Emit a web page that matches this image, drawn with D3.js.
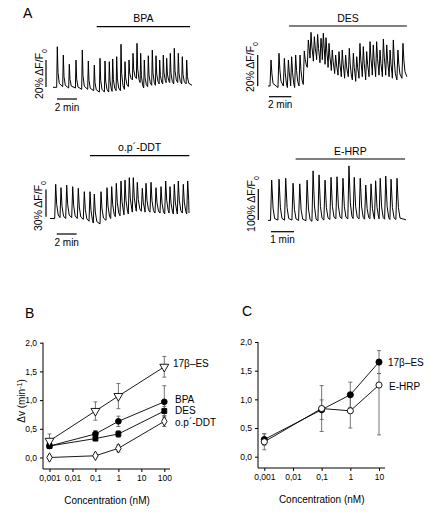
<!DOCTYPE html>
<html><head><meta charset="utf-8">
<script src="https://cdn.jsdelivr.net/npm/d3@7"></script>
<style>
body{margin:0;background:#fff}
svg{display:block;background:#fff}
text{font-family:"Liberation Sans",Arial,Helvetica,sans-serif;fill:#000}
</style>
</head><body>
<svg id="chart" width="431" height="513"></svg>
<script>
// ---------------- DATA ----------------
// Panel A traces (time in min, ΔF/F0 in %)
const bpaPeakT = [0.43,1.03,1.63,2.3,2.93,3.53,4.13,4.7,5.2,5.63,5.97,6.37,6.8,7.2,7.6,8.0,8.4,8.77,9.13,9.53,9.93,10.3,10.67,11.03,11.37,11.73,12.13,12.53,12.93,13.37];
const bpaPeakV = [30.6,24.4,17.6,20.7,28.1,20,17,22,20,19.5,21.5,23.2,32.4,19.5,20.7,25.7,33.1,25.7,20.7,23.9,28.1,23.9,20.7,24.4,22,25.7,29.4,25.7,23.2,20.7];
const bpaBaseV = [0.5,1,0,0,-1,-1,-2,-3,-3,-3,-2.5,-2,-2,-1,1,6,7,4,0,1,2,2,3,3,4,4,3,4,3,3];
const bpaEnd = [13.9, 2];

const desPeakT = [0.27,0.98,1.46,1.82,2.11,2.47,2.86,3.24,3.6,3.84,4.14,4.43,4.73,4.94,5.18,5.45,5.74,6.04,6.34,6.63,6.93,7.26,7.62,7.92,8.21,8.51,8.81,9.11,9.4,9.7,10.0,10.3,10.6,10.9,11.19,11.6,12.05];
const desPeakV = [16.8,21.1,17.8,16.8,18.9,20,20,22.6,29.7,34.6,31.8,33.3,30.8,34,31.2,27.5,23.2,20,22.2,23.2,20,24.3,21.1,18.9,27.5,25.4,22.2,28.6,26.5,28.6,23.2,30.3,26.5,23.2,29.7,23.2,27.5];
const desBaseV = [0,-1,0,-1,0,-1,0,1,12,18,16,17,15,17,14,12,10,8,7,6,5,6,4,3,5,6,4,6,7,6,7,6,7,6,5,4,5];
const desEnd = [12.4, 6];

const ddtPeakT = [0.57,1.1,1.67,2.27,2.83,3.43,4.0,4.43,5.1,5.7,6.17,6.63,7.1,7.5,7.93,8.33,8.73,9.23,9.6,10.1,10.6,11.1,11.57,12.0,12.43,12.83,13.33,13.77];
const ddtPeakV = [35.6,31.9,34.8,33,31.2,27.5,27.5,24.9,27.5,31.9,33,36.7,39.2,40.3,42.9,42.9,37.8,31.2,36.7,37.8,31.9,33,39.2,33,35.6,39.2,35.6,39.2];
const ddtBaseV = [-2,-1,-2,-1,-2,-3,-5,-7,-8,-4,-2,0,1,2,3,5,6,6,5,5,4,4,3,4,3,3,4,3];
const ddtEnd = [13.9, 4];

const ehrpPeakT = [0.16,0.48,0.77,1.09,1.38,1.70,1.96,2.22,2.48,2.74,3.0,3.26,3.52,3.75,4.01,4.25,4.48,4.68,4.88,5.12,5.35,5.61];
const ehrpPeakV = [127,130,133,117,115,127,157,144,127,136,138,133,173,136,133,111,115,125,133,140,130,133];
const ehrpBaseV = [-3,-2,-2,-2,-3,-4,-6,-5,-2,0,2,3,2,3,2,1,2,1,2,1,0,0];
const ehrpEnd = [6.0, -1];

const treatNames = ["BPA", "DES", "o.p´-DDT", "E-HRP"];
const treatStart = [4.37, 1.88, 4.0, 1.2];
const treatEnd = [13.7, 12.4, 13.93, 5.96];
const scaleBarPct = [20, 20, 30, 100];
const scaleBarMin = [2, 2, 2, 1];

// Panel B
const concB = [0.001, 0.1, 1, 100];
const es17B = [0.29, 0.81, 1.07, 1.58];
const es17BErr = [0.12, 0.16, 0.22, 0.18];
const bpaB = [0.20, 0.41, 0.63, 0.97];
const bpaBErr = [0.04, 0.06, 0.09, 0.28];
const desB = [0.20, 0.33, 0.41, 0.81];
const desBErr = [0.03, 0.04, 0.06, 0.08];
const ddtB = [0.00, 0.03, 0.16, 0.63];
const ddtBErr = [0.02, 0.02, 0.06, 0.09];
const xTicksB = [0.001, 0.01, 0.1, 1, 10, 100];
const xTickLabelsB = ["0,001", "0,01", "0,1", "1", "10", "100"];

// Panel C
const concC = [0.001, 0.1, 1, 10];
const es17C = [0.30, 0.82, 1.08, 1.65];
const es17CErr = [0.10, 0.17, 0.22, 0.20];
const ehrpC = [0.26, 0.84, 0.80, 1.25];
const ehrpCErrLo = [0.14, 0.40, 0.30, 0.87];
const ehrpCErrHi = [0.14, 0.40, 0.30, 0.20];
const xTicksC = [0.001, 0.01, 0.1, 1, 10];
const xTickLabelsC = ["0,001", "0,01", "0,1", "1", "10"];

const yTicks = [0, 0.5, 1, 1.5, 2];
const yTickLabels = ["0,0", "0,5", "1,0", "1,5", "2,0"];

// ---------------- DRAW ----------------
const svg = d3.select("#chart");
const FF = '"Liberation Sans",Arial,Helvetica,sans-serif';

function letter(t, x, y) {
  svg.append("text").attr("x", x).attr("y", y).attr("font-size", 14).text(t);
}
letter("A", 23, 18);
letter("B", 25, 317.5);
letter("C", 242, 316);

function drawTrace(cfg) {
  const x = d3.scaleLinear().domain([0, 1]).range([cfg.x0, cfg.x0 + cfg.pxMin]);
  const y = d3.scaleLinear().domain([0, 1]).range([cfg.y0, cfg.y0 - cfg.pxPct]);
  const n = cfg.peakT.length;
  const pts = [[0, cfg.baseV[0]]];
  for (let i = 0; i < n; i++) {
    const nb = i + 1 < n ? cfg.baseV[i + 1] : cfg.end[1];
    const nextStart = i + 1 < n ? cfg.peakT[i + 1] - cfg.rise : cfg.end[0];
    const tp = cfg.peakT[i];
    pts.push([tp - cfg.rise, cfg.baseV[i]]);
    pts.push([tp, cfg.peakV[i]]);
    pts.push([tp + cfg.fall, nb + cfg.frac * (cfg.peakV[i] - nb)]);
    const t2 = Math.min(tp + cfg.fall2, nextStart - 0.01);
    if (t2 > tp + cfg.fall) pts.push([t2, nb + cfg.frac2 * (cfg.peakV[i] - nb)]);
  }
  pts.push(cfg.end);
  svg.append("path")
    .attr("d", d3.line().x(d => x(d[0])).y(d => y(d[1]))(pts))
    .attr("fill", "none").attr("stroke", "#000").attr("stroke-width", 1)
    .attr("stroke-linejoin", "round");
  // treatment bar
  svg.append("line").attr("x1", x(cfg.tStart)).attr("x2", x(cfg.tEnd))
    .attr("y1", cfg.barY).attr("y2", cfg.barY).attr("stroke", "#000").attr("stroke-width", 1.2);
  svg.append("text").attr("x", (x(cfg.tStart) + x(cfg.tEnd)) / 2).attr("y", cfg.barY - 4.5)
    .attr("text-anchor", "middle").attr("font-size", 10.5).text(cfg.name);
  // vertical scale bar
  const vb = y(0) - y(cfg.sPct);
  svg.append("line").attr("x1", cfg.vbX).attr("x2", cfg.vbX)
    .attr("y1", cfg.vbBottom).attr("y2", cfg.vbBottom - vb).attr("stroke", "#000").attr("stroke-width", 1.2);
  const vt = svg.append("text").attr("transform", `translate(${cfg.vlX},${cfg.vlY}) rotate(-90)`)
    .attr("text-anchor", "middle").attr("font-size", 10.5);
  vt.append("tspan").text(cfg.sPct + "% ΔF/F");
  vt.append("tspan").attr("baseline-shift", "sub").attr("font-size", 7).text("0");
  // horizontal scale bar
  const hb = x(cfg.sMin) - x(0);
  svg.append("line").attr("x1", cfg.hbX).attr("x2", cfg.hbX + hb)
    .attr("y1", cfg.hbY).attr("y2", cfg.hbY).attr("stroke", "#000").attr("stroke-width", 1.2);
  svg.append("text").attr("x", cfg.hbX + hb / 2).attr("y", cfg.hbY + 11.5)
    .attr("text-anchor", "middle").attr("font-size", 10).text(cfg.sMin + " min");
}

drawTrace({peakT: bpaPeakT, peakV: bpaPeakV, baseV: bpaBaseV, end: bpaEnd,
  x0: 53, pxMin: 10, y0: 88, pxPct: 1.35, rise: 0.06, fall: 0.07, frac: 0.35, fall2: 0.2, frac2: 0.08,
  tStart: treatStart[0], tEnd: treatEnd[0], name: treatNames[0], barY: 26.7,
  sPct: scaleBarPct[0], vbX: 46, vbBottom: 87, vlX: 43, vlY: 74,
  sMin: scaleBarMin[0], hbX: 57, hbY: 99});
drawTrace({peakT: desPeakT, peakV: desPeakV, baseV: desBaseV, end: desEnd,
  x0: 268, pxMin: 11.2, y0: 86, pxPct: 1.55, rise: 0.09, fall: 0.08, frac: 0.5, fall2: 0.18, frac2: 0.15,
  tStart: treatStart[1], tEnd: treatEnd[1], name: treatNames[1], barY: 26,
  sPct: scaleBarPct[1], vbX: 257.7, vbBottom: 86, vlX: 254, vlY: 67,
  sMin: scaleBarMin[1], hbX: 269, hbY: 96.7});
drawTrace({peakT: ddtPeakT, peakV: ddtPeakV, baseV: ddtBaseV, end: ddtEnd,
  x0: 50, pxMin: 10, y0: 216.7, pxPct: 0.91, rise: 0.1, fall: 0.1, frac: 0.4, fall2: 0.25, frac2: 0.08,
  tStart: treatStart[2], tEnd: treatEnd[2], name: treatNames[2], barY: 155.7,
  sPct: scaleBarPct[2], vbX: 46, vbBottom: 216.7, vlX: 42, vlY: 206,
  sMin: scaleBarMin[2], hbX: 56.7, hbY: 234});
drawTrace({peakT: ehrpPeakT, peakV: ehrpPeakV, baseV: ehrpBaseV, end: ehrpEnd,
  x0: 268, pxMin: 23, y0: 219.5, pxPct: 0.31, rise: 0.05, fall: 0.06, frac: 0.3, fall2: 0.13, frac2: 0.04,
  tStart: treatStart[3], tEnd: treatEnd[3], name: treatNames[3], barY: 159,
  sPct: scaleBarPct[3], vbX: 258.3, vbBottom: 220, vlX: 255, vlY: 204,
  sMin: scaleBarMin[3], hbX: 271, hbY: 231.7});

// ---- dose-response panels ----
function axes(x, y, ax, ay, xEnd, xTicks, xLabels) {
  svg.append("line").attr("x1", ax).attr("x2", ax).attr("y1", y(2)).attr("y2", ay)
    .attr("stroke", "#000").attr("stroke-width", 1);
  svg.append("line").attr("x1", ax).attr("x2", xEnd).attr("y1", ay).attr("y2", ay)
    .attr("stroke", "#000").attr("stroke-width", 1);
  const gy = svg.append("g").attr("transform", `translate(${ax},0)`)
    .call(d3.axisLeft(y).tickValues(yTicks).tickFormat((d, i) => yTickLabels[i]).tickSize(3).tickPadding(3));
  const gx = svg.append("g").attr("transform", `translate(0,${ay})`)
    .call(d3.axisBottom(x).tickValues(xTicks).tickFormat((d, i) => xLabels[i]).tickSize(3).tickPadding(3));
  [gy, gx].forEach(g => {
    g.select(".domain").remove();
    g.attr("font-family", FF).attr("font-size", 8.5);
    g.selectAll("line").attr("stroke", "#000");
  });
}

function series(x, y, conc, vals, errLo, errHi, symbol, fill, size) {
  svg.append("path")
    .attr("d", d3.line().x((d, i) => x(conc[i])).y(d => y(d))(vals))
    .attr("fill", "none").attr("stroke", "#000").attr("stroke-width", 0.9);
  const g = svg.append("g");
  vals.forEach((v, i) => {
    const cx = x(conc[i]);
    const y1 = y(v + errHi[i]), y2 = y(v - errLo[i]);
    g.append("line").attr("x1", cx).attr("x2", cx).attr("y1", y1).attr("y2", y2)
      .attr("stroke", "#666").attr("stroke-width", 0.9);
    [y1, y2].forEach(yy => g.append("line").attr("x1", cx - 2).attr("x2", cx + 2)
      .attr("y1", yy).attr("y2", yy).attr("stroke", "#666").attr("stroke-width", 0.9));
  });
  return () => {
    vals.forEach((v, i) => {
      svg.append("path").attr("d", d3.symbol().type(symbol).size(size)())
        .attr("transform", `translate(${x(conc[i])},${y(v)})` + (symbol === d3.symbolTriangle ? " rotate(180)" : ""))
        .attr("fill", fill).attr("stroke", "#000").attr("stroke-width", 0.9);
    });
  };
}

// Panel B
const bX = d3.scaleLog().domain([0.001, 100]).range([49.5, 164.3]);
const bY = d3.scaleLinear().domain([0, 2]).range([457.5, 342.7]);
axes(bX, bY, 43, 469, 170, xTicksB, xTickLabelsB);
const mB = [
  series(bX, bY, concB, ddtB, ddtBErr, ddtBErr, d3.symbolDiamond, "#fff", 26),
  series(bX, bY, concB, desB, desBErr, desBErr, d3.symbolSquare, "#000", 24),
  series(bX, bY, concB, bpaB, bpaBErr, bpaBErr, d3.symbolCircle, "#000", 26),
  series(bX, bY, concB, es17B, es17BErr, es17BErr, d3.symbolTriangle, "#fff", 34)
];
mB.forEach(f => f());
function lab(t, x, y) {
  return svg.append("text").attr("x", x).attr("y", y).attr("font-size", 10).text(t);
}
lab("17β–ES", 173, 366.5);
lab("BPA", 175, 402.5);
lab("DES", 175, 414);
lab("o.p´-DDT", 175, 425.5);
svg.append("text").attr("x", 107).attr("y", 503.5).attr("text-anchor", "middle")
  .attr("font-size", 10).text("Concentration (nM)");
const yl = svg.append("text").attr("transform", "translate(25,401) rotate(-90)")
  .attr("text-anchor", "middle").attr("font-size", 10);
yl.append("tspan").text("Δv (min");
yl.append("tspan").attr("baseline-shift", "super").attr("font-size", 7).text("-1");
yl.append("tspan").text(")");

// Panel C
const cX = d3.scaleLog().domain([0.001, 10]).range([264.3, 379]);
const cY = d3.scaleLinear().domain([0, 2]).range([456.7, 342]);
axes(cX, cY, 258, 468, 385, xTicksC, xTickLabelsC);
const mC = [
  series(cX, cY, concC, es17C, es17CErr, es17CErr, d3.symbolCircle, "#000", 30),
  series(cX, cY, concC, ehrpC, ehrpCErrLo, ehrpCErrHi, d3.symbolCircle, "#fff", 30)
];
mC.forEach(f => f());
lab("17β–ES", 388, 365.5);
lab("E-HRP", 389, 389.5);
svg.append("text").attr("x", 321.7).attr("y", 503).attr("text-anchor", "middle")
  .attr("font-size", 10).text("Concentration (nM)");
</script>
</body></html>
